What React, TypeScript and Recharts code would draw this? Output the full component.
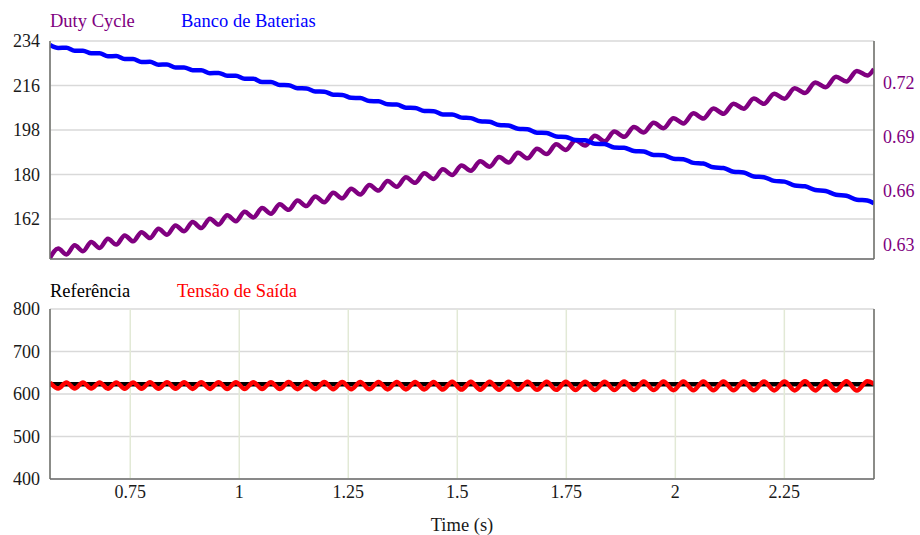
import { LineChart, Line, XAxis, YAxis, CartesianGrid } from "recharts";

const FONT = '"Liberation Serif", "Times New Roman", serif';

// time grid (s) shared by the ripple series
const TIME = [
  0.566, 0.5848, 0.6037, 0.6226, 0.6416, 0.6606, 0.6797, 0.6988, 0.718, 0.7373,
  0.7566, 0.7759, 0.7953, 0.8148, 0.8343, 0.8538, 0.8735, 0.8931, 0.9129, 0.9327,
  0.9525, 0.9724, 0.9923, 1.0124, 1.0324, 1.0525, 1.0727, 1.0929, 1.1132, 1.1336,
  1.154, 1.1744, 1.195, 1.2155, 1.2362, 1.2568, 1.2776, 1.2984, 1.3193, 1.3402,
  1.3612, 1.3822, 1.4033, 1.4244, 1.4457, 1.4669, 1.4883, 1.5097, 1.5311, 1.5526,
  1.5742, 1.5958, 1.6175, 1.6393, 1.6611, 1.6829, 1.7049, 1.7269, 1.7489, 1.7711,
  1.7932, 1.8155, 1.8378, 1.8601, 1.8826, 1.9051, 1.9276, 1.9503, 1.9729, 1.9957,
  2.0185, 2.0414, 2.0643, 2.0873, 2.1104, 2.1335, 2.1567, 2.18, 2.2033, 2.2267,
  2.2502, 2.2737, 2.2973, 2.321, 2.3447, 2.3685, 2.3923, 2.4163, 2.4403, 2.4556,
];

const DUTY = [
  0.6229, 0.628, 0.6247, 0.6298, 0.6265, 0.6316, 0.6283, 0.6334, 0.6302, 0.6353,
  0.632, 0.6371, 0.6338, 0.639, 0.6357, 0.6408, 0.6376, 0.6427, 0.6394, 0.6446,
  0.6413, 0.6465, 0.6432, 0.6484, 0.6453, 0.6505, 0.6474, 0.6526, 0.6495, 0.6547,
  0.6516, 0.6569, 0.6537, 0.659, 0.6559, 0.6612, 0.658, 0.6633, 0.6602, 0.6655,
  0.6623, 0.6676, 0.6645, 0.6698, 0.6667, 0.672, 0.6689, 0.6742, 0.6712, 0.6765,
  0.6735, 0.6788, 0.6758, 0.6812, 0.6781, 0.6835, 0.6805, 0.6859, 0.6828, 0.6882,
  0.6852, 0.6906, 0.6876, 0.693, 0.6901, 0.6955, 0.6925, 0.6979, 0.6949, 0.7004,
  0.6975, 0.7031, 0.7002, 0.7058, 0.7029, 0.7085, 0.7057, 0.7113, 0.7084, 0.714,
  0.7112, 0.717, 0.7144, 0.7202, 0.7176, 0.7234, 0.7208, 0.7267, 0.7241, 0.7278,
];

const BATTERY = [
  232.4, 231.2, 231.3, 230.1, 230.1, 229.0, 229.0, 227.8, 227.9, 226.7,
  226.7, 225.5, 225.6, 224.4, 224.5, 223.3, 223.3, 222.2, 222.2, 221.0,
  221.1, 219.9, 219.9, 218.7, 218.7, 217.4, 217.4, 216.2, 216.1, 214.9,
  214.8, 213.6, 213.5, 212.3, 212.2, 211.0, 210.9, 209.7, 209.6, 208.4,
  208.3, 207.0, 206.9, 205.7, 205.6, 204.3, 204.3, 203.0, 202.8, 201.5,
  201.3, 200.0, 199.8, 198.5, 198.3, 196.9, 196.8, 195.4, 195.2, 193.9,
  193.8, 192.4, 192.3, 190.9, 190.8, 189.5, 189.3, 187.9, 187.8, 186.4,
  186.2, 184.7, 184.4, 182.9, 182.6, 181.1, 180.8, 179.2, 178.9, 177.4,
  177.1, 175.5, 175.2, 173.7, 173.3, 171.8, 171.4, 169.8, 169.5, 168.3,
];

const OUTPUT = [
  627.0, 612.9, 627.1, 612.8, 627.1, 612.7, 627.2, 612.6, 627.3, 612.5,
  627.3, 612.4, 627.4, 612.3, 627.5, 612.1, 627.5, 612.0, 627.6, 611.9,
  627.7, 611.8, 627.8, 611.7, 627.8, 611.6, 627.9, 611.5, 628.0, 611.4,
  628.0, 611.2, 628.1, 611.1, 628.2, 611.0, 628.2, 610.9, 628.3, 610.8,
  628.4, 610.7, 628.4, 610.6, 628.5, 610.4, 628.6, 610.3, 628.6, 610.2,
  628.7, 610.1, 628.8, 610.0, 628.8, 609.9, 628.9, 609.8, 629.0, 609.6,
  629.0, 609.5, 629.1, 609.4, 629.2, 609.3, 629.3, 609.2, 629.3, 609.1,
  629.4, 609.0, 629.5, 608.9, 629.5, 608.7, 629.6, 608.6, 629.7, 608.5,
  629.7, 608.4, 629.8, 608.3, 629.9, 608.2, 629.9, 608.1, 630.0, 624.0,
];

const REF_TIME = [0.566, 2.4556];
const REFERENCE = [623, 623];

const X_TICKS = [0.75, 1, 1.25, 1.5, 1.75, 2, 2.25];
const BATTERY_TICKS = [162, 180, 198, 216, 234];
const DUTY_TICKS = [0.63, 0.66, 0.69, 0.72];
const VOLT_TICKS = [400, 500, 600, 700, 800];

const X_DOMAIN: [number, number] = [0.566, 2.4556];

const topData = TIME.map((t, i) => ({ t, duty: DUTY[i], battery: BATTERY[i] }));
const outData = TIME.map((t, i) => ({ t, out: OUTPUT[i] }));
const refData = REF_TIME.map((t, i) => ({ t, ref: REFERENCE[i] }));

const tickStyle = { fill: "#1a1a1a", fontSize: 18, fontFamily: FONT };
const axisStroke = { stroke: "#6b6b6b", strokeWidth: 1.5 };

function Grid({ yAxisId }: { yAxisId: string }) {
  return (
    <>
      <CartesianGrid yAxisId={yAxisId} vertical={false} stroke="#d9d9d9" strokeWidth={1.5} />
      <CartesianGrid yAxisId={yAxisId} horizontal={false} stroke="#e2e9d6" strokeWidth={1.5} />
    </>
  );
}

export default function App() {
  return (
    <div
      style={{
        position: "absolute",
        left: 0,
        top: 0,
        width: 920,
        height: 535,
        background: "#fff",
        fontFamily: FONT,
        fontSize: 18.5,
        lineHeight: "20px",
      }}
    >
      <span style={{ position: "absolute", left: 50, top: 11, color: "#800080" }}>Duty Cycle</span>
      <span style={{ position: "absolute", left: 181, top: 11, color: "#0000ff" }}>Banco de Baterias</span>
      <span style={{ position: "absolute", left: 50, top: 281, color: "#000" }}>Referência</span>
      <span style={{ position: "absolute", left: 177, top: 281, color: "#ff0000" }}>Tensão de Saída</span>

      <div style={{ position: "absolute", left: 0, top: 0 }}>
        <LineChart width={920} height={280} data={topData} margin={{ top: 41, right: 0, bottom: 0, left: 0 }}>
          <Grid yAxisId="left" />
          <XAxis
            dataKey="t"
            type="number"
            domain={X_DOMAIN}
            ticks={X_TICKS}
            allowDataOverflow
            tick={false}
            tickLine={false}
            height={21}
            axisLine={axisStroke}
          />
          <YAxis
            yAxisId="left"
            width={50}
            domain={[145.8, 234]}
            ticks={BATTERY_TICKS}
            allowDataOverflow
            tickLine={false}
            tickSize={8}
            tickMargin={2}
            tick={tickStyle}
            axisLine={axisStroke}
          />
          <YAxis
            yAxisId="right"
            orientation="right"
            width={46}
            domain={[0.6222, 0.7433]}
            ticks={DUTY_TICKS}
            allowDataOverflow
            tickLine={false}
            tickSize={7}
            tickMargin={2}
            tick={{ ...tickStyle, fill: "#800080" }}
            axisLine={axisStroke}
          />
          <Line
            yAxisId="right"
            dataKey="duty"
            type="monotone"
            stroke="#800080"
            strokeWidth={4.5}
            dot={false}
            isAnimationActive={false}
          />
          <Line
            yAxisId="left"
            dataKey="battery"
            type="monotone"
            stroke="#0000ff"
            strokeWidth={4.5}
            dot={false}
            isAnimationActive={false}
          />
        </LineChart>
      </div>

      <div style={{ position: "absolute", left: 0, top: 280 }}>
        <LineChart width={920} height={255} margin={{ top: 29, right: 0, bottom: 0, left: 0 }}>
          <Grid yAxisId="left" />
          <XAxis
            dataKey="t"
            type="number"
            domain={X_DOMAIN}
            ticks={X_TICKS}
            allowDataOverflow
            tickLine={false}
            tickSize={4}
            tickMargin={2}
            tick={tickStyle}
            height={56}
            axisLine={axisStroke}
          />
          <YAxis
            yAxisId="left"
            width={50}
            domain={[400, 800]}
            ticks={VOLT_TICKS}
            tickLine={false}
            tickSize={8}
            tickMargin={2}
            tick={tickStyle}
            axisLine={axisStroke}
          />
          <YAxis
            yAxisId="right"
            orientation="right"
            width={46}
            domain={[400, 800]}
            tick={false}
            tickLine={false}
            axisLine={axisStroke}
          />
          <Line
            yAxisId="left"
            data={refData}
            dataKey="ref"
            type="linear"
            stroke="#000"
            strokeWidth={4.5}
            dot={false}
            isAnimationActive={false}
          />
          <Line
            yAxisId="left"
            data={outData}
            dataKey="out"
            type="monotone"
            stroke="#ff0000"
            strokeWidth={4.5}
            dot={false}
            isAnimationActive={false}
          />
        </LineChart>
      </div>

      <div style={{ position: "absolute", left: 412, width: 100, top: 515, textAlign: "center", color: "#1a1a1a" }}>
        Time (s)
      </div>
    </div>
  );
}
